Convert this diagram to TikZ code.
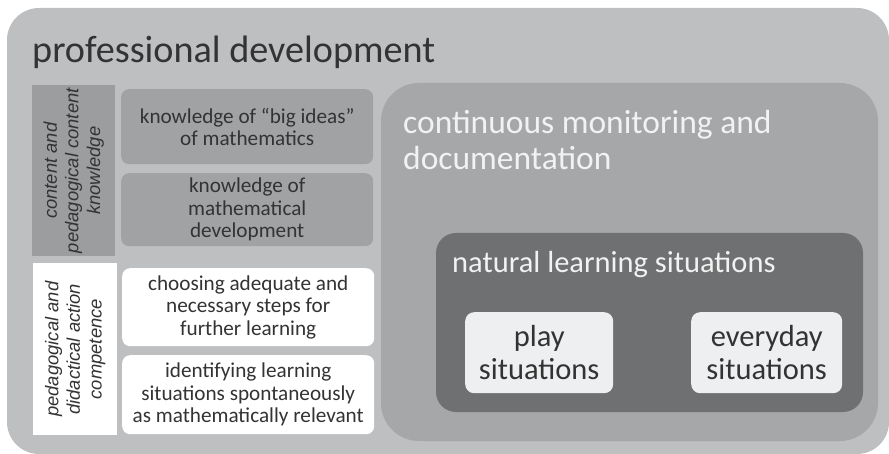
\documentclass[tikz,border=0pt]{standalone}
\usepackage{fontspec}
\setmainfont{Carlito}
\newfontfamily\labelfont{Liberation Sans}
\usetikzlibrary{positioning}

\definecolor{outergray}{HTML}{BEBFC1}
\definecolor{panelgray}{HTML}{A6A7A9}
\definecolor{labelgray}{HTML}{9C9D9F}
\definecolor{boxgray}{HTML}{A1A2A4}
\definecolor{naturalgray}{HTML}{6F7072}
\definecolor{situationfill}{HTML}{EEEFF0}
\definecolor{textdark}{HTML}{333333}
\definecolor{textlight}{HTML}{F2F2F2}

\tikzset{
    itembox/.style={rounded corners=8pt, inner sep=0pt, align=center, text=textdark,
        anchor=north west, minimum width=252pt,
        font=\fontsize{21.2}{22.5}\selectfont},
    sidelabel/.style={rotate=90, inner sep=0pt, align=center, text=textdark,
        font=\labelfont\itshape\fontsize{18.4}{21.7}\selectfont},
    situation/.style={rounded corners=9pt, fill=situationfill, inner sep=0pt,
        align=center, text=textdark, anchor=north west, minimum height=81pt,
        font=\fontsize{30.5}{33}\selectfont}
}

\begin{document}
\begin{tikzpicture}[x=1pt, y=-1pt]

    \useasboundingbox (0, 0) rectangle (889, 454);

    % --- Outer frame ---
    \fill[outergray, rounded corners=32pt] (7, 8) rectangle (889, 454);
    \node[anchor=base west, inner sep=0pt, text=textdark,
        font=\fontsize{38.2}{40}\selectfont] (title) at (32, 63) {professional development};

    % --- Knowledge column (left) ---
    \node[fill=labelgray, anchor=north west, minimum width=83pt, minimum height=171pt,
        inner sep=0pt] (ckbox) at (32, 85) {};
    \node[sidelabel] (cklabel) at (ckbox.center)
        {content and\\pedagogical content\\knowledge};

    \node[itembox, fill=boxgray, minimum height=75pt] (bigideas) at (121, 89)
        {knowledge of “big ideas”\\of mathematics};
    \node[itembox, fill=boxgray, minimum height=73pt] (mathdev) at (121, 173)
        {knowledge of\\mathematical\\development};

    % --- Action competence (left) ---
    \node[fill=white, anchor=north west, minimum width=84pt, minimum height=172pt,
        inner sep=0pt] (acbox) at (33, 263) {};
    \node[sidelabel] (aclabel) at (acbox.center)
        {pedagogical and\\didactical action\\competence};

    \node[itembox, fill=white, minimum height=78pt] (steps) at (122, 268)
        {choosing adequate and\\necessary steps for\\further learning};
    \node[itembox, fill=white, minimum height=79pt] (identify) at (122, 355)
        {identifying learning\\situations spontaneously\\as mathematically relevant};

    % --- Monitoring panel (right) ---
    \fill[panelgray, rounded corners=38pt] (381, 83) rectangle (878, 441);
    % base of a two-line node sits on its last line
    \node[anchor=base west, align=left, inner sep=0pt, text=textlight,
        font=\fontsize{33.5}{36}\selectfont] (monitoring) at (403, 170)
        {continuous monitoring and\\documentation};

    % --- Natural learning situations ---
    \fill[naturalgray, rounded corners=20pt] (436, 233) rectangle (863, 412);
    \node[anchor=base west, inner sep=0pt, text=textlight,
        font=\fontsize{30.5}{33}\selectfont] (natural) at (452, 273)
        {natural learning situations};

    \node[situation, minimum width=148pt] (play) at (465, 312) {play\\situations};
    \node[situation, minimum width=151pt] (everyday) at (691, 312) {everyday\\situations};

\end{tikzpicture}
\end{document}
